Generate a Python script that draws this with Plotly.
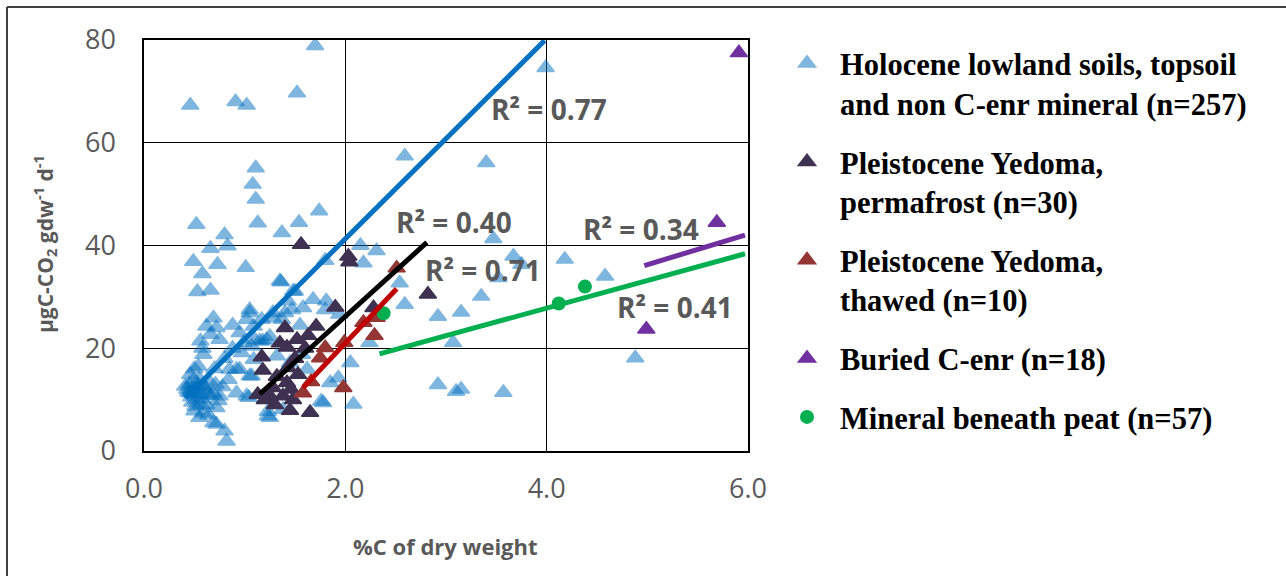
import plotly.graph_objects as go

# ---------------- data ----------------
hol_x = [0.46, 0.91, 1.02, 1.52, 1.70, 3.99, 2.59, 3.40, 1.11, 1.08, 1.11, 1.74,
         0.52, 1.13, 1.54, 1.37, 0.80, 0.66, 0.83, 0.49, 0.73, 1.01, 0.58, 0.53,
         0.66, 1.80, 1.36, 1.48, 3.47, 3.67, 3.52, 3.75, 4.18, 4.58, 3.35, 3.15,
         3.07, 4.88, 3.15, 3.57, 2.15, 2.31, 2.18, 2.59, 2.92, 2.92, 3.10, 2.08,
         2.05, 1.93, 1.76, 1.25, 0.80, 0.82, 0.72, 0.92, 1.04, 2.54, 2.24, 1.85,
         1.78, 1.38, 1.23, 1.35, 1.50, 1.43, 1.68, 1.81, 1.80, 1.58, 1.47, 1.28,
         1.17, 1.09, 1.05, 1.25, 1.10, 1.18, 0.97, 1.45, 1.57, 1.62, 0.92, 1.07,
         1.02, 1.05, 1.28, 1.37, 1.40, 1.15, 1.22, 1.23, 0.69, 0.62, 0.72, 0.66,
         0.75, 0.56, 0.59, 0.54, 0.46, 0.41, 0.46, 0.56, 0.69, 0.75, 0.51, 0.59,
         0.72, 0.69, 0.85, 0.95, 1.02, 0.84, 1.09, 1.05, 0.99, 1.07, 0.45, 0.50,
         0.52, 0.55, 0.60, 0.48, 0.55, 0.62, 0.65, 0.70, 0.78, 0.80, 0.88, 0.50,
         0.58, 0.88, 0.95, 0.44, 0.47, 0.53, 0.57, 0.63, 1.94, 1.32, 1.55,
         0.43, 0.49, 0.52, 0.58, 0.61, 0.66, 0.71, 0.50, 0.54, 0.47, 0.64, 0.74]
hol_y = [67.3, 68.0, 67.3, 69.7, 78.9, 74.6, 57.4, 56.1, 55.1, 51.9, 49.0, 46.7,
         44.1, 44.4, 44.5, 42.5, 42.1, 39.4, 39.9, 36.9, 36.3, 35.7, 34.5, 31.0,
         31.3, 37.1, 32.9, 31.1, 41.3, 37.9, 33.7, 36.3, 37.3, 34.0, 30.1, 27.0,
         21.1, 18.1, 12.0, 11.4, 40.0, 39.0, 36.6, 28.5, 26.2, 12.9, 11.6, 9.1,
         17.2, 14.2, 9.7, 6.5, 3.9, 1.9, 5.2, 11.3, 10.4, 32.7, 21.1, 13.3,
         9.4, 8.1, 6.8, 33.1, 31.1, 29.2, 29.5, 29.2, 27.5, 27.9, 27.5, 25.9,
         25.6, 24.3, 27.5, 22.3, 21.7, 21.4, 19.1, 17.2, 18.8, 15.9, 15.9, 14.6,
         25.6, 26.9, 26.9, 25.6, 26.9, 21.4, 21.7, 7.7, 25.9, 24.3, 24.0, 22.7,
         21.7, 21.4, 18.8, 16.5, 14.9, 12.6, 11.3, 11.3, 11.3, 10.7, 8.7, 7.4,
         8.4, 5.5, 15.9, 15.9, 10.7, 13.9, 17.8, 14.6, 21.1, 20.4, 13.0, 12.0,
         10.0, 14.0, 12.5, 9.5, 6.5, 9.0, 13.5, 16.0, 12.5, 18.0, 20.0, 16.0,
         20.0, 24.5, 23.0, 11.5, 10.5, 12.5, 9.0, 11.0, 26.6, 18.5, 24.5,
         12.0, 13.8, 11.0, 10.2, 12.0, 10.8, 13.0, 7.8, 12.8, 11.8, 7.0, 9.8]

perm_x = [1.56, 2.03, 2.04, 1.90, 2.82, 1.40, 1.71, 1.63, 1.52, 1.42, 1.17, 1.18,
          1.43, 1.53, 1.42, 1.13, 1.28, 1.38, 1.48, 1.45, 1.65, 1.25, 2.28, 1.20,
          1.32, 1.50, 1.35, 1.60, 1.46, 1.30]
perm_y = [40.2, 37.9, 36.8, 28.0, 30.5, 24.0, 24.3, 22.5, 21.7, 20.2, 18.3, 15.7,
          16.2, 14.9, 13.3, 11.0, 12.3, 10.7, 10.0, 7.9, 7.5, 10.7, 27.9, 10.0,
          14.5, 18.0, 21.0, 20.0, 12.0, 9.0]

thaw_x = [2.51, 2.31, 2.18, 2.29, 1.99, 1.80, 1.75, 1.98, 1.58, 1.66]
thaw_y = [35.6, 26.0, 25.0, 22.5, 21.1, 20.1, 18.1, 12.3, 11.3, 13.5]

bur_x = [5.91, 5.69, 4.99]
bur_y = [77.5, 44.5, 23.7]

min_x = [4.12, 4.38, 2.38]
min_y = [28.7, 32.0, 26.8]

# trendlines: (x start, x end, slope, intercept)
trend_names = ["Holocene", "Perm", "Thaw", "Buried", "Mineral"]
trend_x0 = [0.41, 1.15, 1.58, 4.97, 2.34]
trend_x1 = [3.98, 2.81, 2.51, 5.97, 5.97]
trend_slope = [19.5, 17.77, 20.75, 5.9, 5.37]
trend_icpt = [2.3, -9.34, -20.5, 6.78, 6.33]
trend_colors = ["#0070C0", "#000000", "#C00000", "#7030A0", "#00B050"]

r2_text = ["R² = 0.77", "R² = 0.40", "R² = 0.71", "R² = 0.34", "R² = 0.41"]
r2_x = [3.43, 2.48, 2.77, 4.34, 4.68]
r2_y = [66.5, 44.5, 35.3, 43.2, 28.0]

x_ticks = [0, 2, 4, 6]
y_ticks = [0, 20, 40, 60, 80]

# ---------------- layout constants ----------------
W, H = 1286, 576
L, R, T, B = 144, 748, 40, 451
PW, PH = R - L, B - T

def px(xp):
    return (xp - L) / PW

def py(yp):
    return (B - yp) / PH

fig = go.Figure()

tri = "triangle-up"
MS, LW = 15, 1.5
fig.add_trace(go.Scatter(
    x=hol_x, y=hol_y, mode="markers",
    name="Holocene lowland soils, topsoil<br>and non C-enr mineral (n=257)",
    legendgroup="a",
    marker=dict(symbol=tri, size=MS, color="#0070C0", opacity=0.5,
                line=dict(width=LW, color="#0070C0"))))
fig.add_trace(go.Scatter(
    x=perm_x, y=perm_y, mode="markers",
    name="Pleistocene Yedoma,<br>permafrost (n=30)", legendgroup="b",
    marker=dict(symbol=tri, size=MS, color="#3F3151",
                line=dict(width=LW, color="#3F3151"))))
fig.add_trace(go.Scatter(
    x=thaw_x, y=thaw_y, mode="markers",
    name="Pleistocene Yedoma,<br>thawed (n=10)", legendgroup="c",
    marker=dict(symbol=tri, size=MS, color="#943634",
                line=dict(width=LW, color="#943634"))))
fig.add_trace(go.Scatter(
    x=bur_x, y=bur_y, mode="markers",
    name="Buried C-enr (n=18)", legendgroup="d",
    marker=dict(symbol=tri, size=MS, color="#7030A0",
                line=dict(width=LW, color="#7030A0"))))
fig.add_trace(go.Scatter(
    x=min_x, y=min_y, mode="markers",
    name="Mineral beneath peat (n=57)", legendgroup="e",
    marker=dict(symbol="circle", size=14, color="#00B050")))

for i in range(len(trend_names)):
    xs = [trend_x0[i], trend_x1[i]]
    ys = [trend_slope[i] * v + trend_icpt[i] for v in xs]
    fig.add_trace(go.Scatter(x=xs, y=ys, mode="lines", showlegend=False,
                             hoverinfo="skip",
                             line=dict(color=trend_colors[i], width=5)))

for t, ax_, ay_ in zip(r2_text, r2_x, r2_y):
    fig.add_annotation(x=ax_, y=ay_, text=t, showarrow=False, xanchor="left",
                       yanchor="middle",
                       font=dict(family="Open Sans", size=28, color="#595959",
                                 weight="bold"))

axis_common = dict(showgrid=True, gridcolor="#000000", gridwidth=1,
                   showline=True, mirror=True, linecolor="#000000", linewidth=1.5,
                   zeroline=False, ticks="",
                   tickfont=dict(family="Open Sans", size=27, color="#595959"))

fig.update_layout(
    width=W, height=H,
    margin=dict(l=L, r=W - R, t=T, b=H - B, pad=0),
    paper_bgcolor="white", plot_bgcolor="white",
    xaxis=dict(range=[0, 6], tickvals=x_ticks, tickformat=".1f",
               ticklabelstandoff=13, **axis_common),
    yaxis=dict(range=[0, 80], tickvals=y_ticks, ticklabelstandoff=21,
               **axis_common),
    legend=dict(x=px(774), y=py(37), xanchor="left", yanchor="top",
                font=dict(family="Liberation Serif", size=30.5, color="#000000",
                          weight="bold"),
                itemwidth=56, valign="top", tracegroupgap=16,
                maxheight=530,
                bgcolor="rgba(0,0,0,0)"),
    showlegend=True,
)

# axis titles
fig.add_annotation(xref="paper", yref="paper", x=px(45), y=py(244),
                   text="µgC-CO<sub>2</sub> gdw<sup>-1</sup> d<sup>-1</sup>",
                   textangle=-90, showarrow=False, xanchor="center", yanchor="middle",
                   font=dict(family="Open Sans", size=21, color="#595959", weight="bold"))
fig.add_annotation(xref="paper", yref="paper", x=px(445), y=py(546),
                   text="%C of dry weight", showarrow=False,
                   xanchor="center", yanchor="middle",
                   font=dict(family="Open Sans", size=22, color="#595959", weight="bold"))

# outer frame (top and left edges)
fig.add_shape(type="line", xref="paper", yref="paper",
              x0=px(7), x1=px(1290), y0=py(7), y1=py(7),
              line=dict(color="#404040", width=2))
fig.add_shape(type="line", xref="paper", yref="paper",
              x0=px(7), x1=px(7), y0=py(7), y1=py(580),
              line=dict(color="#404040", width=2))

fig.write_html("out.html")
